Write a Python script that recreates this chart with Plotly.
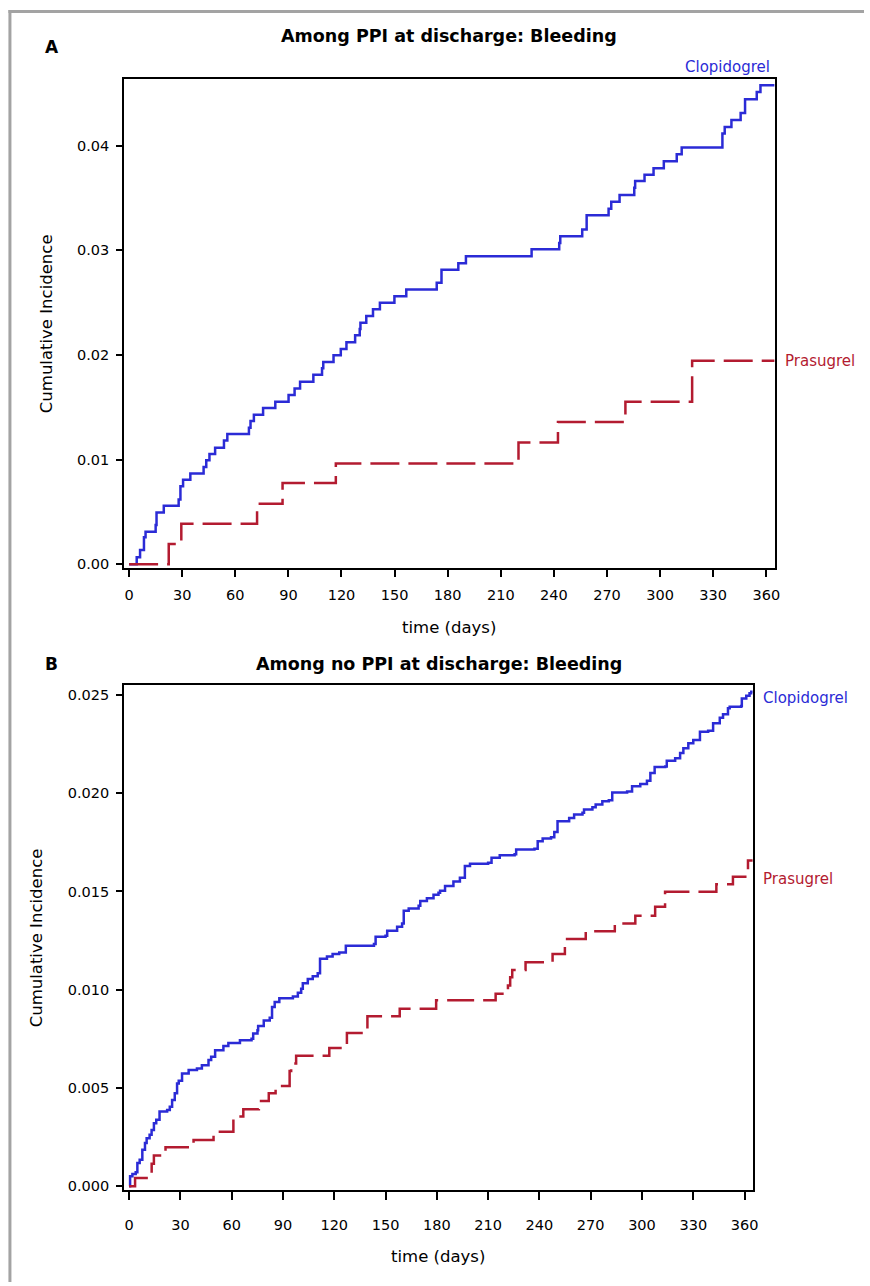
import plotly.graph_objects as go

W, H = 870, 1286

# ---------------- Panel A (PPI at discharge) ----------------
clop_a_days = [0, 4.3, 6.2, 8.4, 9.3, 15.0, 15.5, 19.6, 28.0, 29.0, 30.5, 34.6, 42.1, 43.6, 45.4,
               48.6, 53.6, 55.5, 67.7, 68.6, 70.5, 75.7, 82.6, 90.1, 93.5, 96.6, 104.1, 109.0, 109.7,
               115.5, 119.6, 122.8, 127.7, 130.3, 130.7, 134.0, 137.8, 141.7, 149.9, 156.6, 173.8,
               176.5, 186.0, 190.3, 227.4, 243.0, 243.6, 256.0, 258.5, 270.9, 272.4, 277.1, 285.4,
               285.9, 291.2, 296.3, 302.1, 309.4, 312.2, 335.2, 336.5, 340.3, 345.5, 348.0, 354.6,
               356.7, 364.7]
clop_a_inc = [0, .00067, .00137, .00257, .00311, .00375, .00495, .00559, .00619, .00746, .00806,
              .00867, .0093, .00994, .01054, .01114, .01181, .01244, .01305, .01368, .01429, .01492,
              .01552, .01616, .01679, .01743, .0181, .01873, .01933, .01997, .02057, .02121, .02187,
              .02248, .02308, .02371, .02435, .02498, .02559, .02625, .02689, .02813, .02876, .02943,
              .0301, .0307, .03133, .03197, .03333, .03397, .03463, .03527, .03597, .0366, .0372,
              .03784, .03851, .03917, .03981, .04114, .04178, .04244, .04311, .04441, .04511, .04575,
              .04575]
pras_a_days = [0, 22.4, 29.5, 72.3, 86.7, 116.8, 220.0, 242.3, 280.4, 318.1, 364.7]
pras_a_inc = [0, .00194, .00387, .00578, .00775, .00962, .01162, .01359, .01552, .01943, .01943]

# ---------------- Panel B (no PPI at discharge) ----------------
clop_b_days = [0, 0.58, 1.94, 3.87, 4.84, 6.19, 7.74, 9.29, 10.26, 12.0, 13.16, 14.52, 15.87, 17.81,
               22.26, 23.81, 25.16, 26.71, 28.06, 29.03, 30.97, 34.84, 39.68, 42.58, 46.45, 48.0,
               50.32, 55.16, 58.06, 64.84, 71.61, 72.58, 75.10, 75.48, 78.77, 82.26, 83.61, 85.16,
               87.87, 95.81, 98.71, 100.65, 101.61, 104.52, 107.42, 110.32, 111.68, 115.74, 119.03,
               122.90, 126.77, 143.23, 144.19, 150.0, 150.97, 156.77, 159.68, 160.65, 163.55, 169.35,
               170.32, 174.19, 178.06, 180.97, 181.9, 184.8, 189.7, 193.5, 196.4, 199.4, 210.0, 212.0,
               216.8, 225.5, 226.4, 237.1, 239.0, 241.9, 246.8, 248.7, 250.6, 257.4, 260.3, 265.2,
               266.1, 271.0, 272.9, 276.8, 280.6, 282.6, 291.3, 294.2, 299.0, 302.9, 304.9, 307.4,
               313.6, 314.5, 319.4, 322.3, 324.2, 327.1, 330.0, 333.9, 338.7, 341.6, 345.5, 347.4,
               350.3, 351.3, 358.0, 358.4, 361.0, 362.9, 363.9, 364.8]
clop_b_inc = [0, .000507, .000625, .000709, .00118, .00135, .00186, .0022, .00245, .00262, .00287,
              .00321, .00338, .0038, .00388, .00405, .00439, .00473, .00523, .00537, .00574, .00591,
              .00599, .00616, .00642, .00659, .00692, .00714, .00729, .00743, .00751, .00777, .00794,
              .00816, .00844, .00858, .00912, .00937, .00957, .00966, .00984, .01005, .01033, .01055,
              .01069, .01084, .01157, .01169, .01182, .0119, .01224, .01233, .0127, .01275, .013,
              .01321, .01337, .01402, .01413, .01427, .01452, .01466, .01483, .01494, .01503, .01528,
              .0155, .0157, .0163, .01641, .01646, .01672, .01684, .01689, .01714, .01717, .01756,
              .0177, .01776, .01803, .01857, .01874, .01891, .01901, .01917, .01928, .01942, .01959,
              .01964, .02004, .02009, .02035, .02047, .02063, .02102, .02133, .02136, .02165, .02178,
              .02204, .02229, .02254, .02271, .02313, .02318, .02356, .02384, .02401, .02432, .0244,
              .02443, .02482, .02496, .02508, .02516, .02516]
pras_b_days = [0, 3.5, 13.2, 14.5, 21.3, 37.7, 49.4, 61.0, 66.8, 75.9, 81.7, 85.7, 93.9, 94.8, 97.7,
               117.1, 127.4, 139.4, 158.3, 179.6, 214.4, 221.6, 222.9, 224.1, 231.9, 247.7, 254.9,
               267.1, 284.1, 296.1, 307.7, 313.5, 343.5, 353.2, 362.0, 364.8]
pras_b_inc = [0, .00042, .00115, .00157, .00199, .00236, .00277, .00355, .00392, .00434, .00473,
              .0051, .00586, .00625, .00664, .00704, .0078, .00865, .00903, .00946, .00979, .01022,
              .01064, .01101, .0114, .01182, .01258, .01297, .01337, .01376, .01422, .01499, .01537,
              .01575, .01658, .01658]

x_ticks = [0, 30, 60, 90, 120, 150, 180, 210, 240, 270, 300, 330, 360]
y_ticks_a = [0.00, 0.01, 0.02, 0.03, 0.04]
y_ticks_b = [0.000, 0.005, 0.010, 0.015, 0.020, 0.025]

BLUE = "#2b2bd6"
RED = "#b31b30"
FONT = "DejaVu Sans"

def px_x(p):
    return p / W

def px_y(p):
    return 1 - p / H

fig = go.Figure()
fig.add_trace(go.Scatter(x=clop_a_days, y=clop_a_inc, mode="lines", line_shape="hv",
                         line=dict(color=BLUE, width=2.5), xaxis="x", yaxis="y", name="Clopidogrel"))
fig.add_trace(go.Scatter(x=pras_a_days, y=pras_a_inc, mode="lines", line_shape="hv",
                         line=dict(color=RED, width=2.5, dash="29px,9px"), xaxis="x", yaxis="y",
                         name="Prasugrel"))
fig.add_trace(go.Scatter(x=clop_b_days, y=clop_b_inc, mode="lines", line_shape="hv",
                         line=dict(color=BLUE, width=2.5), xaxis="x2", yaxis="y2", name="Clopidogrel"))
fig.add_trace(go.Scatter(x=pras_b_days, y=pras_b_inc, mode="lines", line_shape="hv",
                         line=dict(color=RED, width=2.5, dash="27px,9px"), xaxis="x2", yaxis="y2",
                         name="Prasugrel"))

def axis_style(ticklen, standoff):
    return dict(showline=True, linecolor="black", linewidth=2, mirror=True, ticks="outside",
                ticklen=ticklen, tickwidth=1.5, tickcolor="black", showgrid=False, zeroline=False,
                ticklabelstandoff=standoff,
                tickfont=dict(family=FONT, size=14.5, color="black"))

fig.update_layout(
    width=W, height=H, margin=dict(l=0, r=0, t=0, b=0),
    paper_bgcolor="white", plot_bgcolor="white", showlegend=False,
    xaxis=dict(domain=[px_x(125), px_x(780)], range=[-2.8, 364.7], tickvals=x_ticks,
               anchor="y", **axis_style(7, 5)),
    yaxis=dict(domain=[px_y(570), px_y(79)], range=[-0.00038, 0.04638], tickvals=y_ticks_a,
               tickformat=".2f", anchor="x", **axis_style(6, 4)),
    xaxis2=dict(domain=[px_x(125), px_x(758)], range=[-2.9, 364.8], tickvals=x_ticks,
                anchor="y2", **axis_style(8, 12)),
    yaxis2=dict(domain=[px_y(1194), px_y(687)], range=[-0.000203, 0.02551], tickvals=y_ticks_b,
                tickformat=".3f", anchor="x2", **axis_style(6, 4)),
)

def ann(text, x, y, size, color="black", bold=False, xanchor="center", angle=0):
    fig.add_annotation(text=f"<b>{text}</b>" if bold else text, x=px_x(x), y=px_y(y),
                       xref="paper", yref="paper", showarrow=False, xanchor=xanchor,
                       yanchor="middle", textangle=angle,
                       font=dict(family=FONT, size=size, color=color))

# titles and panel letters
ann("Among PPI at discharge: Bleeding", 452, 36, 17.5, bold=True)
ann("Among no PPI at discharge: Bleeding", 442, 666, 17.5, bold=True)
ann("A", 52, 47, 17, bold=True)
ann("B", 52, 666, 17, bold=True)
# axis titles
ann("time (days)", 452.5, 629, 16.5)
ann("time (days)", 441.5, 1260, 16.5)
ann("Cumulative Incidence", 47, 324.5, 16.5, angle=-90)
ann("Cumulative Incidence", 37, 940.5, 16.5, angle=-90)
# curve labels
ann("Clopidogrel", 777, 67, 15, color=BLUE, xanchor="right")
ann("Prasugrel", 788, 362, 15, color=RED, xanchor="left")
ann("Clopidogrel", 766, 700, 15, color=BLUE, xanchor="left")
ann("Prasugrel", 766, 882, 15, color=RED, xanchor="left")

# grey frame of the figure panel
fig.add_shape(type="line", xref="paper", yref="paper", x0=px_x(10), x1=px_x(10),
              y0=0, y1=px_y(10), line=dict(color="#a3a3a3", width=3))
fig.add_shape(type="line", xref="paper", yref="paper", x0=px_x(8.5), x1=1,
              y0=px_y(11.5), y1=px_y(11.5), line=dict(color="#a3a3a3", width=3))

fig.write_html("out.html", config={"displayModeBar": False},
               post_script="document.body.style.margin='0px';document.body.style.overflow='hidden';")
